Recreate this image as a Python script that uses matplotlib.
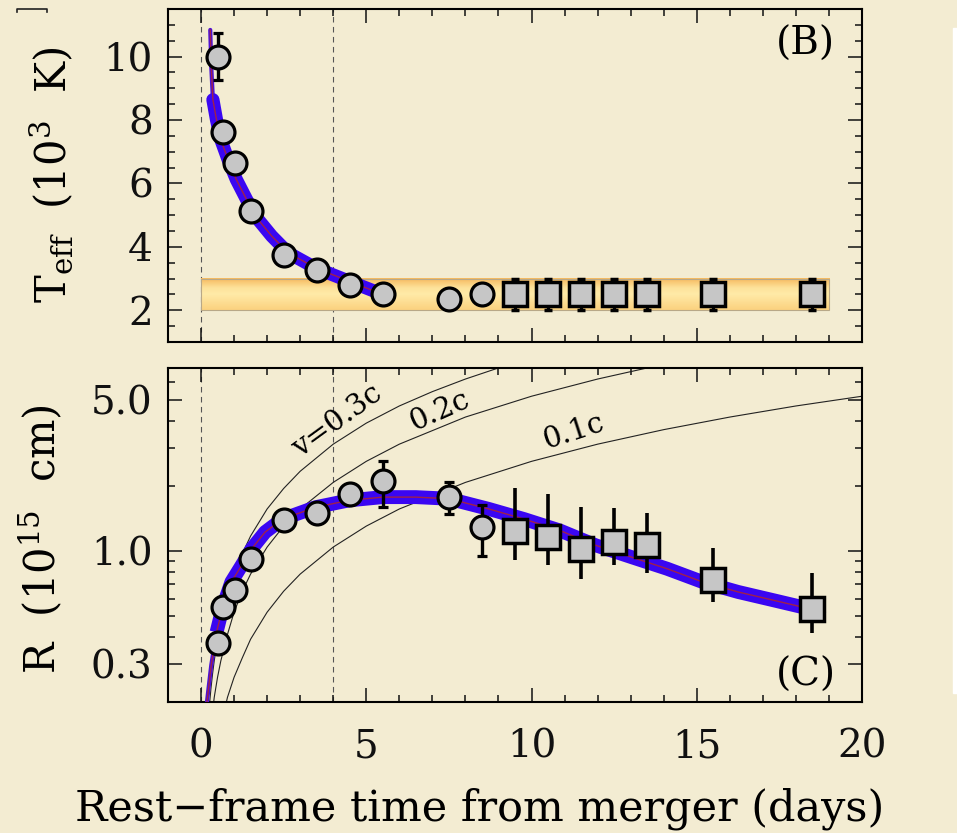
import matplotlib
matplotlib.use("Agg")
import matplotlib.pyplot as plt
import numpy as np
from matplotlib.colors import LinearSegmentedColormap
from matplotlib.patches import Rectangle
from matplotlib.ticker import FixedLocator, MultipleLocator, FixedFormatter

plt.rcParams['font.family'] = ['DejaVu Serif']
plt.rcParams['mathtext.fontset'] = 'dejavuserif'

# --- panel B: effective temperature (10^3 K)
t_circ = [0.5, 0.67, 1.03, 1.5, 2.52, 3.52, 4.5, 5.5, 7.5, 8.5]
T_circ = [10.0, 7.62, 6.64, 5.12, 3.73, 3.27, 2.79, 2.5, 2.35, 2.52]
T_circ_err = [0.75, 0, 0, 0, 0, 0, 0, 0, 0, 0]
t_sq = [9.5, 10.5, 11.5, 12.5, 13.5, 15.5, 18.5]
T_sq = [2.5, 2.5, 2.5, 2.5, 2.5, 2.5, 2.5]
T_sq_err = [0.5, 0.5, 0.5, 0.5, 0.5, 0.5, 0.5]
# model curve
t_modT = [0.28, 0.31, 0.36, 0.47, 0.6, 0.82, 1.07, 1.38, 1.73, 2.14, 2.64, 3.46, 4.47, 5.23]
T_mod = [10.84, 9.69, 8.64, 8.0, 7.38, 6.75, 6.12, 5.49, 4.86, 4.34, 3.81, 3.34, 2.92, 2.61]
band_t = [0, 19]
band_T = [2, 3]

# --- panel C: radius (10^15 cm)
R_circ = [0.373, 0.55, 0.656, 0.912, 1.39, 1.50, 1.83, 2.11, 1.77, 1.29]
R_circ_lo = [0, 0, 0, 0, 0, 0, 0, 0.52, 0.29, 0.34]
R_circ_hi = [0, 0, 0, 0, 0, 0, 0, 0.50, 0.30, 0.34]
R_sq = [1.24, 1.16, 1.02, 1.10, 1.06, 0.73, 0.54]
R_sq_lo = [0.33, 0.30, 0.28, 0.24, 0.27, 0.15, 0.125]
R_sq_hi = [0.70, 0.66, 0.57, 0.47, 0.44, 0.30, 0.25]
t_modR = [0.18, 0.31, 0.47, 0.66, 0.92, 1.23, 1.53, 1.94, 2.46, 3.47, 4.48, 5.5, 6.5,
          7.5, 8.71, 9.78, 10.86, 11.94, 13.02, 14.1, 15.17, 16.25, 17.33, 18.85]
R_mod = [0.2, 0.296, 0.42, 0.55, 0.718, 0.856, 1.02, 1.22, 1.40, 1.59, 1.71, 1.77, 1.77,
         1.74, 1.56, 1.40, 1.24, 1.06, 0.935, 0.826, 0.718, 0.645, 0.59, 0.52]

# constant velocity guides (R = v t)
t_v3 = [0.25, 0.3, 0.35, 0.4, 0.5, 0.6, 0.8, 1.0, 1.25, 1.5, 2, 2.5, 3, 4, 5, 6, 7, 8, 9, 9.5]
R_v3 = [0.19, 0.23, 0.27, 0.31, 0.39, 0.47, 0.62, 0.78, 0.97, 1.17, 1.56, 1.94, 2.33, 3.11,
        3.89, 4.67, 5.44, 6.22, 7.0, 7.39]
t_v2 = [0.35, 0.4, 0.5, 0.6, 0.8, 1.0, 1.25, 1.5, 2, 2.5, 3, 4, 5, 6, 8, 10, 12, 13.5, 14]
R_v2 = [0.18, 0.21, 0.26, 0.31, 0.41, 0.52, 0.65, 0.78, 1.04, 1.30, 1.56, 2.07, 2.59, 3.11,
        4.15, 5.18, 6.22, 7.0, 7.26]
t_v1 = [0.7, 0.8, 1.0, 1.25, 1.5, 2, 2.5, 3, 4, 5, 6, 8, 10, 12, 14, 16, 18, 20]
R_v1 = [0.18, 0.21, 0.26, 0.32, 0.39, 0.52, 0.65, 0.78, 1.04, 1.30, 1.56, 2.07, 2.59, 3.11,
        3.63, 4.15, 4.67, 5.18]

x_ticks = [0, 5, 10, 15, 20]
R_major = [0.3, 1.0, 5.0]
R_minor = [0.2, 0.4, 0.5, 0.6, 0.7, 0.8, 0.9, 2, 3, 4, 6, 7]

bg = '#f3ecd2'
blue = '#3a06f2'
red = '#a0204a'
grey = '#c6c6c6'

fig = plt.figure(figsize=(9.57, 8.33), dpi=100, facecolor=bg)
ax1 = fig.add_axes([0.1755, 0.5894, 0.7253, 0.3998])
ax2 = fig.add_axes([0.1755, 0.1573, 0.7253, 0.401])

for ax in (ax1, ax2):
    ax.set_facecolor(bg)
    ax.set_xlim(-1, 20)
    ax.xaxis.set_major_locator(FixedLocator(x_ticks))
    ax.xaxis.set_minor_locator(MultipleLocator(1))
    ax.tick_params(which='both', direction='in', top=True, right=True, width=1.1,
                   labelsize=28, colors='#111111')
    ax.tick_params(which='major', length=10)
    ax.tick_params(which='minor', length=5)
    ax.tick_params(axis='x', pad=19)
    ax.tick_params(axis='y', pad=11)
    for s in ax.spines.values():
        s.set_linewidth(1.5)
    ax.axvline(0, color='#555555', lw=0.8, ls=(0, (5, 4)), zorder=1)
    ax.axvline(4, color='#555555', lw=0.8, ls=(0, (5, 4)), zorder=1)

# top panel
ax1.set_ylim(1, 11.5)
ax1.yaxis.set_major_locator(MultipleLocator(2))
ax1.yaxis.set_minor_locator(MultipleLocator(0.5))
ax1.tick_params(axis='x', labelbottom=False)

cm = LinearSegmentedColormap.from_list('band', [(0, '#fbd27f'), (0.5, '#ffeaa8'),
                                                (0.7, '#fde29a'), (1, '#f6b95e')])
grad = np.linspace(0, 1, 64).reshape(-1, 1)
ax1.imshow(grad, extent=[band_t[0], band_t[1], band_T[0], band_T[1]], aspect='auto',
           cmap=cm, origin='lower', zorder=2)
ax1.add_patch(Rectangle((band_t[0], band_T[0]), band_t[1] - band_t[0], band_T[1] - band_T[0],
                        fill=False, ec='#b8a888', lw=0.8, zorder=2))
ax1.set_xlim(-1, 20)
ax1.set_ylim(1, 11.5)

ax1.plot(t_modT, T_mod, color='#4a10d8', lw=3, zorder=3, solid_capstyle='round')
ax1.plot(t_modT[2:], T_mod[2:], color=blue, lw=9.5, zorder=3, solid_capstyle='round')
ax1.plot(t_modT, T_mod, color=red, lw=1, zorder=3)

ax1.errorbar(t_circ, T_circ, yerr=T_circ_err, fmt='o', ms=16.5, mfc=grey, mec='k', mew=2.3,
             ecolor='k', elinewidth=2.4, capsize=3.6, capthick=2.4, zorder=5)
ax1.errorbar(t_sq, T_sq, yerr=T_sq_err, fmt='s', ms=17, mfc=grey, mec='k', mew=2.5,
             ecolor='k', elinewidth=2.4, capsize=3.2, capthick=2.4, zorder=5)
ax1.text(18.3, 10.4, '(B)', fontsize=28, ha='center', va='center')

# bottom panel
ax2.set_yscale('log')
ax2.set_ylim(0.2, 7)
ax2.yaxis.set_major_locator(FixedLocator(R_major))
ax2.yaxis.set_major_formatter(FixedFormatter(['%.1f' % v for v in R_major]))
ax2.yaxis.set_minor_locator(FixedLocator(R_minor))
ax2.yaxis.set_minor_formatter(FixedFormatter([''] * len(R_minor)))

for tv, Rv in ((t_v3, R_v3), (t_v2, R_v2), (t_v1, R_v1)):
    ax2.plot(tv, Rv, color='#222222', lw=0.8, zorder=2)
ax2.text(4.11, 3.98, 'v=0.3c', fontsize=21, rotation=36, ha='center', va='center')
ax2.text(7.2, 4.43, '0.2c', fontsize=21, rotation=24, ha='center', va='center')
ax2.text(11.28, 3.54, '0.1c', fontsize=21, rotation=18, ha='center', va='center')

ax2.plot(t_modR, R_mod, color='#4a10d8', lw=3, zorder=3, solid_capstyle='round')
ax2.plot(t_modR[2:], R_mod[2:], color=blue, lw=10, zorder=3, solid_capstyle='butt')
ax2.plot(t_modR, R_mod, color=red, lw=1, zorder=3)

ax2.errorbar(t_circ, R_circ, yerr=[R_circ_lo, R_circ_hi], fmt='o', ms=16.5, mfc=grey, mec='k',
             mew=2.3, ecolor='k', elinewidth=2.4, capsize=3.6, capthick=2.4, zorder=5)
ax2.errorbar(t_sq, R_sq, yerr=[R_sq_lo, R_sq_hi], fmt='s', ms=17, mfc=grey, mec='k', mew=2.5,
             ecolor='k', elinewidth=2.6, capsize=0, zorder=5)
ax2.text(18.3, 0.265, '(C)', fontsize=28, ha='center', va='center')

fig.text(0.0533, 0.79, r'T$_{\rm eff}$  (10$^{3}$  K)', fontsize=30, rotation=90,
         ha='center', va='center')
fig.text(0.0428, 0.353, r'R  (10$^{15}$  cm)', fontsize=30, rotation=90,
         ha='center', va='center')
fig.text(0.5016, 0.029, 'Rest\u2212frame time from merger (days)', fontsize=31,
         ha='center', va='center')

# scan artefacts at the edges
fig.patches.append(Rectangle((953 / 957, 1 - 693 / 833), 4 / 957, 665 / 833,
                             transform=fig.transFigure, color='white', zorder=0))
fig.lines.append(plt.Line2D([17 / 957, 17 / 957, 47 / 957, 47 / 957],
                            [1 - 12 / 833, 1 - 9 / 833, 1 - 9 / 833, 1 - 12 / 833],
                            transform=fig.transFigure, color='#222222', lw=1.2))

fig.savefig('out.png', dpi=100, facecolor=bg)
